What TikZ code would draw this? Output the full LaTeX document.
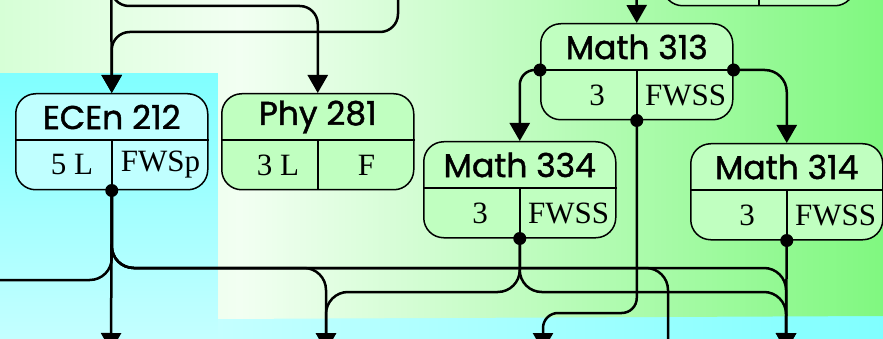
\documentclass[tikz,border=0pt]{standalone}
\usepackage{fontspec}
\setmainfont{Liberation Serif}
\newfontfamily\hdrfont{Poppins}[FakeBold=1.3]
\usetikzlibrary{calc,arrows.meta}
\definecolor{gA}{HTML}{D6FFD6}
\definecolor{gB}{HTML}{F2FFF2}
\definecolor{gC}{HTML}{80F880}
\definecolor{cA}{HTML}{80FFFF}
\definecolor{cB}{HTML}{C4FFFF}
\definecolor{boxc}{HTML}{C0FFFF}
\definecolor{boxg}{HTML}{C0FFC0}
\pgfdeclarehorizontalshading{greenbg}{100bp}{color(0bp)=(gA); color(25bp)=(gA); color(38.6bp)=(gB); color(75bp)=(gC); color(100bp)=(gC)}
\tikzset{
  cbox/.style={draw=black, line width=1.5pt, rounded corners=20pt, rectangle,
    minimum width=192pt, minimum height=96pt, inner sep=0pt},
  divline/.style={draw=black, line width=1.5pt},
  hdr/.style={font=\hdrfont\fontsize{33}{35}\selectfont, inner sep=0pt},
  cell/.style={font=\fontsize{31}{33}\selectfont, inner sep=0pt},
  edge/.style={draw=black, line width=2.5pt, rounded corners=22pt,
    -{Triangle[width=20pt,length=18pt]}},
  link/.style={draw=black, line width=2.5pt, rounded corners=22pt},
  dot/.style={fill=black}
}
\newcommand{\course}[7]{%
  \node[cbox, fill=#7, anchor=north west] (#1) at (#2,#3) {};
  \draw[divline] ($(#1.north west)+(0,47)$) coordinate (#1-hw) -- ($(#1.north east)+(0,47)$) coordinate (#1-he);
  \draw[divline] ($(#1.north)+(0,47)$) -- (#1.south);
  \node[hdr] (#1-t) at ($(#1.north)+(0,24)$) {#4};
  \node[cell] (#1-l) at ($(#1.north west)+(57,72)$) {#5};
  \node[cell] (#1-r) at ($(#1.north east)+(-48,72)$) {#6};
}
\begin{document}
\begin{tikzpicture}[x=1pt,y=-1pt]
\useasboundingbox (0,0) rectangle (883,339);
\clip (0,0) rectangle (883,339);
% backgrounds
\shade[top color=cA, bottom color=cB] (0,73) rectangle (218,339);
\shade[left color=cB, right color=cA] (218,316) rectangle (883,339);
\shade[shading=greenbg] (0,0) -- (883,0) -- (883,316) -- (218,319) -- (218,73) -- (0,73) -- cycle;
% courses
\course{top}{662}{-91}{}{}{}{boxg}
\course{ece}{15}{93}{ECEn 212}{5 L}{FWSp}{boxc}
\course{phy}{221}{93}{Phy 281}{3 L}{F}{boxg}
\course{mA}{540}{23}{Math 313}{3}{FWSS}{boxg}
\course{mB}{423}{141}{Math 334}{3}{FWSS}{boxg}
\course{mC}{690}{143}{Math 314}{3}{FWSS}{boxg}
% free ends
\coordinate (t1) at (111,-60);
\coordinate (t2) at (398,-60);
\coordinate (t3) at (636.5,-60);
\coordinate (h1) at (0,6);
\coordinate (h2) at (0,32);
\coordinate (b1) at (111,351);
\coordinate (b2) at (326,351);
\coordinate (b3) at (543,351);
\coordinate (b4) at (786,351);
\coordinate (b5) at (668,400);
\coordinate (l1) at (-40,280);
\coordinate (r1) at (0,268);
\coordinate (r2) at (0,292);
\coordinate (r3) at (0,313);
% top edges
\draw[edge] (t1) -- (ece.north);
\draw[edge, rounded corners=18pt] (t1) -- (t1 |- h1) -- (phy.north |- h1) -- (phy.north);
\draw[edge, rounded corners=18pt] (t2) -- (t2 |- h2) -- (ece.north |- h2) -- (ece.north);
\draw[edge] (t3) -- (mA.north);
% Math 313
\draw[edge, rounded corners=15pt] (mA-hw) -| (mB.north);
\draw[edge] (mA-he) -| (mC.north);
\draw[edge, rounded corners=15pt] (mA.south) -- (mA.south |- r3) -- (b3 |- r3) -- (b3);
% ECEn 212
\draw[edge] (ece.south) -- (b1);
\draw[link] (ece.south) -- (ece.south |- l1) -- (l1);
\draw[edge] (ece.south) -- (ece.south |- r1) -- (b2 |- r1) -- (b2);
\draw[edge] (ece.south) -- (ece.south |- r1) -- (b5 |- r1) -- (b5);
\draw[edge] (ece.south) -- (ece.south |- r1) -- (b4 |- r1) -- (b4);
% Math 334
\draw[edge] (mB.south) -- (mB.south |- r2) -- (b2 |- r2) -- (b2);
\draw[edge] (mB.south) -- (mB.south |- r2) -- (b4 |- r2) -- (b4);
% Math 314
\draw[edge] (mC.south) -- (b4);
% dots
\fill[dot] (ece.south) circle (6.5);
\fill[dot] (mA.south) circle (6.5);
\fill[dot] (mA-hw) circle (6.5);
\fill[dot] (mA-he) circle (6.5);
\fill[dot] (mB.south) circle (6.5);
\fill[dot] (mC.south) circle (6.5);
\end{tikzpicture}
\end{document}
